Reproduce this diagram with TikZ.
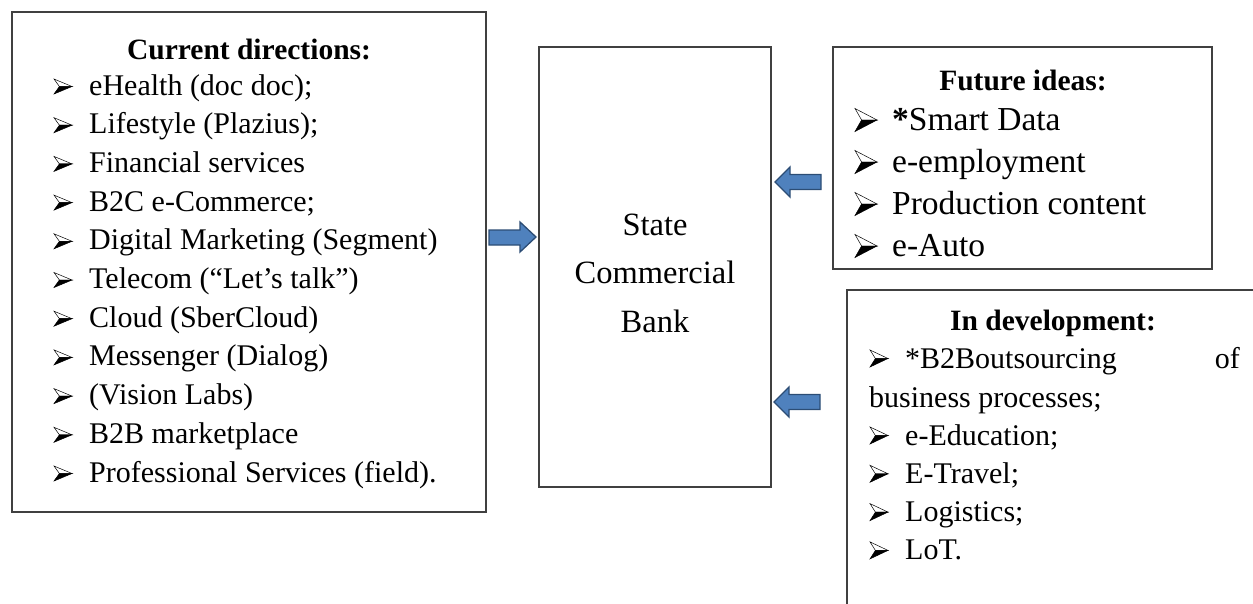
\documentclass[tikz,border=0pt]{standalone}
\usepackage{fontspec}
\setmainfont{Liberation Serif}
\definecolor{boxline}{HTML}{404040}
\definecolor{arrowfill}{HTML}{4F81BD}
\definecolor{arrowdraw}{HTML}{2C4D75}
\begin{document}
\begin{tikzpicture}[x=1pt,y=-1pt,
  box/.style={draw=boxline, line width=1.4pt, inner sep=0pt},
  ttl/.style={anchor=base, inner sep=0pt, font=\bfseries\fontsize{29.5}{36}\selectfont},
  itm/.style={anchor=base west, inner sep=0pt, font=\fontsize{30}{36}\selectfont},
  bigitm/.style={anchor=base west, inner sep=0pt, font=\fontsize{33.5}{40}\selectfont},
  banktxt/.style={anchor=base, inner sep=0pt, font=\fontsize{32.5}{38}\selectfont},
  blockarrow/.style={fill=arrowfill, draw=arrowdraw, line width=1.3pt, line join=miter},
  pics/arrowbullet/.style={code={
    \filldraw[fill=white, draw=black, line width=0.5pt, line join=miter] (0,-0.5) -- (1,0) -- (0.3,0) -- cycle;
    \filldraw[fill=black, draw=black, line width=0.5pt, line join=miter] (0.3,0) -- (1,0) -- (0,0.5) -- cycle;
  }}]
\useasboundingbox (0,0) rectangle (1253,603);
% boxes
\node[box, minimum width=474pt, minimum height=500pt] (cur) at (249,262) {};
\node[box, minimum width=232pt, minimum height=440pt] (bank) at (655,267) {};
\node[box, minimum width=379pt, minimum height=222pt] (fut) at (1022.5,158) {};
\node[box, minimum width=460pt, minimum height=360pt] (dev) at (1077,470) {};
% left box
\node[ttl] (curt) at (249,59) {Current directions:};
\foreach \t [count=\i] in {eHealth (doc doc);, Lifestyle (Plazius);, Financial services, B2C e-Commerce;, Digital Marketing (Segment), Telecom (“Let’s talk”), Cloud (SberCloud), Messenger (Dialog), (Vision Labs), B2B marketplace, Professional Services (field).}{
  \pic[xscale=18, yscale=15] (curb\i) at (54,{95+38.7*(\i-1)-8.5}) {arrowbullet};
  \node[itm] (cur\i) at (89,{95+38.7*(\i-1)}) {\t};
}
% center
\node[banktxt] (b1) at (655,235) {State};
\node[banktxt] (b2) at (655,283) {Commercial};
\node[banktxt] (b3) at (655,332) {Bank};
% future ideas
\node[ttl] (futt) at (1023,90) {Future ideas:};
\foreach \t [count=\i] in {\textbf{*}Smart Data, e-employment, Production content, e-Auto}{
  \pic[xscale=22, yscale=23] (futb\i) at (855,{130+42*(\i-1)-10}) {arrowbullet};
  \node[bigitm] (fut\i) at (892,{130+42*(\i-1)}) {\t};
}
% in development
\node[ttl] (devt) at (1053,330) {In development:};
\pic[xscale=18, yscale=17] (devb0) at (870,{368-9.5}) {arrowbullet};
\node[itm] (dev0a) at (905,368) {*B2Boutsourcing};
\node[itm, anchor=base east] (dev0b) at (1240,368) {of};
\node[itm] (dev0c) at (869,407) {business processes;};
\foreach \t [count=\i] in {e-Education;, E-Travel;, Logistics;, LoT.}{
  \pic[xscale=18, yscale=17] (devb\i) at (870,{445+38.3*(\i-1)-9.5}) {arrowbullet};
  \node[itm] (dev\i) at (905,{445+38.3*(\i-1)}) {\t};
}
% block arrows
\draw[blockarrow] (489,230) -- (520,230) -- (520,222) -- (536,237) -- (520,252) -- (520,245) -- (489,245) -- cycle;
\draw[blockarrow] (821,174.5) -- (790,174.5) -- (790,167) -- (775,182) -- (790,197) -- (790,189.5) -- (821,189.5) -- cycle;
\draw[blockarrow] (820,394.5) -- (789,394.5) -- (789,387) -- (774,402) -- (789,417) -- (789,409.5) -- (820,409.5) -- cycle;
\end{tikzpicture}
\end{document}
